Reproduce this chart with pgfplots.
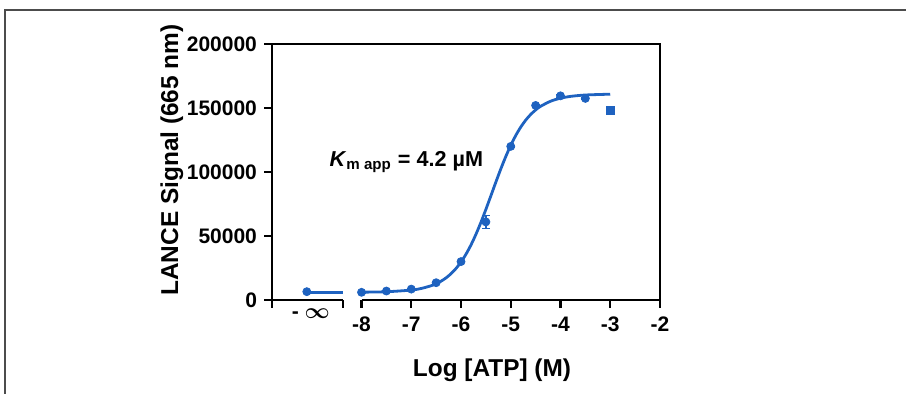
\documentclass[border=0pt]{standalone}
\usepackage{pgfplots}
\pgfplotsset{compat=1.18}
\usepackage{fontspec}
\setmainfont{Liberation Sans}
\definecolor{cblue}{RGB}{30,98,192}
\begin{document}
\begin{tikzpicture}
\useasboundingbox (0pt,0pt) rectangle (453pt,197pt);
\draw[line width=0.6pt,black!70] (2.5pt,0pt) -- (2.5pt,192pt) -- (453pt,192pt);
\begin{axis}[
  at={(136pt,47pt)}, anchor=south west,
  scale only axis, width=194pt, height=128pt,
  xmin=-9.8, xmax=-2, ymin=0, ymax=200000,
  axis line style={draw=none},
  xtick pos=bottom, ytick pos=left,
  tick align=outside,
  major tick length=4pt,
  tick style={line width=1.1pt,black},
  xtick={-9.8,-8.38,-8,-7,-6,-5,-4,-3,-2},
  xticklabels={,,-8,-7,-6,-5,-4,-3,-2},
  extra x ticks={-9.1},
  extra x tick labels={- {\boldmath$\infty$}},
  extra x tick style={major tick length=0pt, xticklabel style={xshift=2pt}},
  scaled y ticks=false,
  ytick={0,50000,100000,150000,200000},
  yticklabels={0,50000,100000,150000,200000},
  ticklabel style={font=\fontsize{10.5}{12}\selectfont\bfseries},
  xticklabel style={yshift=-1pt},
  xlabel={Log [ATP] (M)},
  ylabel={LANCE Signal (665 nm)},
  label style={font=\fontsize{12.2}{14}\selectfont\bfseries},
  x label style={at={(axis description cs:0.567,0)}, anchor=north, yshift=-26pt},
  y label style={at={(axis description cs:-0.258,0.547)}, anchor=center},
  clip=false,
]
% frame: broken bottom axis, left, right, top
\draw[line width=1.25pt] (rel axis cs:0,0) -- (axis cs:-8.38,0);
\draw[line width=1.25pt] (axis cs:-8,0) -- (rel axis cs:1,0);
\draw[line width=1.25pt, line cap=rect] (rel axis cs:0,0) -- (rel axis cs:0,1) -- (rel axis cs:1,1) -- (rel axis cs:1,0);
% fitted curve (left plateau)
\addplot[cblue, line width=1.4pt, no marks] coordinates {(-9.1,6000) (-8.38,6000)};
% fitted curve
\addplot[cblue, line width=1.4pt, no marks, smooth] coordinates {
(-8,6111) (-7.5,6442) (-7,7744) (-6.8,9004) (-6.6,11150) (-6.5,12704)
(-6.4,14732) (-6.3,17305) (-6.2,20570) (-6.1,24652) (-6.0,29678)
(-5.9,35768) (-5.8,42975) (-5.7,51308) (-5.6,60635) (-5.5,70772)
(-5.4,81353) (-5.3,92030) (-5.2,102387) (-5.1,112065) (-5.0,120823)
(-4.9,128490) (-4.8,135032) (-4.7,140487) (-4.6,144903) (-4.5,148477)
(-4.4,151308) (-4.2,155272) (-4.0,157652) (-3.8,159055) (-3.5,160145) (-3.0,160784)};
% data points
\addplot[only marks, mark=*, mark size=2pt, color=cblue,
  error bars/.cd, y dir=both, y explicit, error bar style={line width=0.8pt}, error mark options={rotate=90, mark size=2pt}]
  coordinates {
(-9.1,6500) +- (0,500)
(-8,6000) +- (0,500)
(-7.5,7000) +- (0,500)
(-7,8500) +- (0,500)
(-6.5,13500) +- (0,800)
(-6,30000) +- (0,800)
(-5.5,61000) +- (0,5000)
(-5,120000) +- (0,1000)
(-4.5,152000) +- (0,1000)
(-4,159500) +- (0,1000)
(-3.5,157500) +- (0,1000)
};
\addplot[only marks, mark=square*, mark size=2pt, color=cblue,
  error bars/.cd, y dir=both, y explicit, error bar style={line width=0.8pt}]
  coordinates {(-3,148000) +- (0,3000)};
\node[font=\fontsize{10.8}{12}\selectfont\bfseries] at (axis cs:-7.1,108000)
  {\textit{K}\textsubscript{m app} = 4.2 µM};
\end{axis}
\end{tikzpicture}
\end{document}
